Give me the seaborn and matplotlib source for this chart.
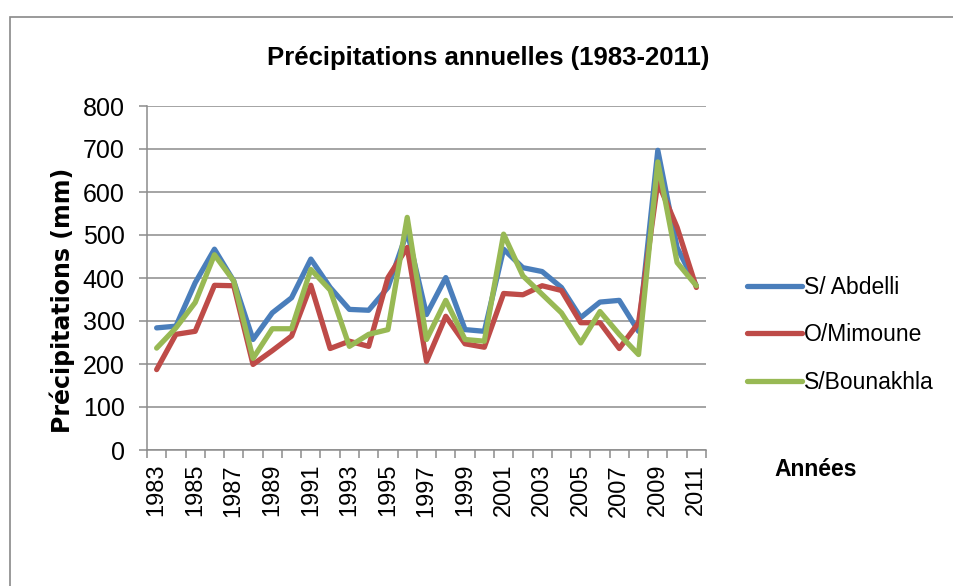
import matplotlib
matplotlib.use("Agg")
import matplotlib.pyplot as plt
import seaborn as sns
import pandas as pd
from matplotlib.patches import Rectangle

years = list(range(1983, 2012))
abdelli = [284, 288, 389, 467, 393, 257, 319, 354, 444, 378, 327, 325, 378, 508, 315, 401, 280, 276, 467,
           424, 415, 378, 308, 344, 348, 276, 697, 471, 382]
mimoune = [187, 269, 276, 383, 382, 199, 231, 265, 383, 236, 253, 241, 401, 471, 206, 311, 247, 239, 364,
           361, 382, 371, 296, 296, 236, 296, 623, 518, 378]
bounakhla = [237, 284, 343, 454, 393, 213, 282, 282, 420, 372, 241, 269, 280, 541, 257, 348, 257, 253, 502,
             405, 362, 319, 249, 322, 269, 222, 670, 436, 382]
series_names = ["S/ Abdelli", "O/Mimoune", "S/Bounakhla"]
colors = ["#4A7EBB", "#BE4B48", "#98B954"]

df = pd.concat([
    pd.DataFrame({"pos": range(len(years)), "Année": years, "val": v, "Station": n})
    for v, n in zip([abdelli, mimoune, bounakhla], series_names)
])

sns.set_theme(style="white")
plt.rcParams["font.family"] = ["Liberation Sans", "DejaVu Sans"]
plt.rcParams["text.color"] = "black"
plt.rcParams["xtick.color"] = "black"
plt.rcParams["ytick.color"] = "black"

fig = plt.figure(figsize=(9.54, 5.86), dpi=100)
fig.patch.set_facecolor("white")
fig.patches.append(Rectangle((10 / 954, -0.01), 1.0, 1 - 17 / 586 + 0.01, transform=fig.transFigure,
                             fill=False, edgecolor="#898989", linewidth=1.2))
ax = fig.add_axes([147 / 954, 1 - 450 / 586, (706 - 147) / 954, (450 - 106) / 586])

sns.lineplot(data=df, x="pos", y="val", hue="Station", palette=colors, linewidth=3.8,
             ax=ax, legend=True, sort=False)

ax.set_xlim(-0.5, len(years) - 0.5)
ax.set_ylim(0, 800)
ax.set_yticks(range(0, 801, 100))
ax.yaxis.grid(True, color="#8C8C8C", linewidth=1.1)
ax.xaxis.grid(False)
for s in ["top", "right"]:
    ax.spines[s].set_visible(False)
for s in ["left", "bottom"]:
    ax.spines[s].set_color("#8C8C8C")
    ax.spines[s].set_linewidth(1.1)

major = [i for i, y in enumerate(years) if (y - 1983) % 2 == 0]
ax.set_xticks(major)
ax.set_xticklabels([str(years[i]) for i in major], rotation=90, fontsize=17)
ax.set_xticks([i - 0.5 for i in range(len(years) + 1)], minor=True)
ax.tick_params(axis="x", which="major", length=0, pad=10, labelcolor="black")
ax.tick_params(axis="x", which="minor", length=6, color="#8C8C8C", width=1.1, direction="out", bottom=True)
ax.tick_params(axis="y", length=6, color="#8C8C8C", width=1.1, direction="out", labelsize=18, left=True,
               pad=10, labelcolor="black")
ax.set_xlabel("")
ax.set_ylabel("")

fig.text(62 / 954, 1 - 300 / 586, "Précipitations (mm)", rotation=90, ha="center", va="center",
         fontsize=17, fontweight="bold", family=["DejaVu Sans"], color="black")
fig.text(488 / 954, 1 - 58 / 586, "Précipitations annuelles (1983-2011)", ha="center", va="center",
         fontsize=18.5, fontweight="bold", color="black")
fig.text(816 / 954, 1 - 470 / 586, "Années", ha="center", va="center", fontsize=16.5, fontweight="bold",
         color="black")

handles, labels = ax.get_legend_handles_labels()
leg = ax.legend(handles, labels, loc="center left", bbox_to_anchor=(726 / 954, 1 - 335 / 586),
                bbox_transform=fig.transFigure, frameon=False, fontsize=16.5, handlelength=2.4,
                handletextpad=0.1, labelspacing=1.08)
for t in leg.get_texts():
    t.set_color("black")

fig.savefig("out.png", dpi=100, facecolor="white")
